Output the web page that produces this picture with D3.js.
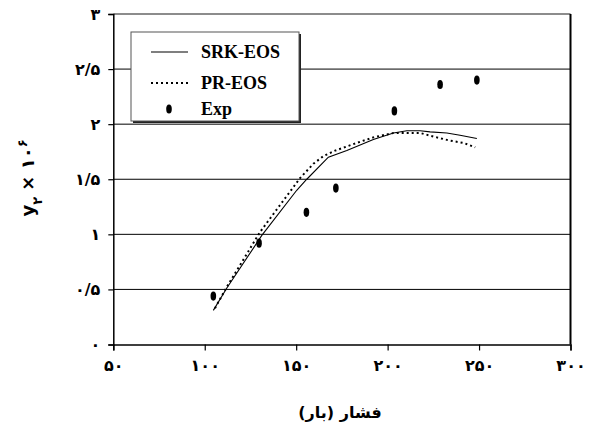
<!DOCTYPE html>
<html>
<head>
<meta charset="utf-8">
<script src="https://cdn.jsdelivr.net/npm/d3@7/dist/d3.min.js"></script>
<style>
  html, body { margin: 0; padding: 0; background: #fff; }
  svg { display: block; }
</style>
</head>
<body>
<svg id="chart" width="596" height="436"></svg>
<script>
// axis ticks
const xTicks = [50, 100, 150, 200, 250, 300];
const yTicks = [0, 0.5, 1, 1.5, 2, 2.5, 3];
const seriesNames = ["SRK-EOS", "PR-EOS", "Exp"];

// SRK-EOS model (pressure, y2 x 10^6)
const srkP = [104.7, 112.0, 131.2, 150.3, 155.8, 167.6, 177.7, 192.2, 203.2, 210.5, 217.8, 223.2, 232.4, 239.6, 248.8];
const srkY = [0.31, 0.51, 0.99, 1.40, 1.50, 1.70, 1.76, 1.86, 1.92, 1.94, 1.94, 1.93, 1.92, 1.90, 1.87];

// PR-EOS model
const prP = [105.6, 112.0, 130.2, 152.1, 159.4, 164.9, 171.3, 184.9, 192.2, 203.2, 210.5, 217.8, 226.9, 234.2, 241.5, 247.9];
const prY = [0.33, 0.52, 1.02, 1.51, 1.64, 1.71, 1.76, 1.84, 1.88, 1.92, 1.92, 1.92, 1.88, 1.85, 1.83, 1.79];

// experimental points
const expP = [104.7, 129.7, 155.6, 171.7, 203.7, 228.7, 248.8];
const expY = [0.44, 0.92, 1.20, 1.42, 2.12, 2.36, 2.40];

const faDigits = "۰۱۲۳۴۵۶۷۸۹";
const toFa = v => String(v).replace(/\d/g, d => faDigits[d]).replace(".", "/");

var m = { top: 14, right: 25.5, bottom: 91.5, left: 113.3 };
var w = 596 - m.left - m.right;
var h = 436 - m.top - m.bottom;

const svg = d3.select("#chart");
const g = svg.append("g").attr("transform", "translate(" + m.left + "," + m.top + ")");

var x = d3.scaleLinear().domain([50, 300]).range([0, w]);
var y = d3.scaleLinear().domain([0, 3]).range([h, 0]);

const faFont = "'DejaVu Sans', sans-serif";

// gridlines
g.selectAll("line.grid")
  .data(yTicks.filter(d => d > 0 && d < 3))
  .enter().append("line")
  .attr("class", "grid")
  .attr("x1", 0).attr("x2", w)
  .attr("y1", d => y(d)).attr("y2", d => y(d))
  .attr("stroke", "#000").attr("stroke-width", 1);

// plot border (top, right)
g.append("line").attr("x1", 0).attr("x2", w).attr("y1", 0).attr("y2", 0)
  .attr("stroke", "#666").attr("stroke-width", 1.5);
g.append("line").attr("x1", w).attr("x2", w).attr("y1", 0).attr("y2", h)
  .attr("stroke", "#000").attr("stroke-width", 2);

// axes
const yAxis = g.append("g")
  .call(d3.axisLeft(y).tickValues(yTicks).tickSize(5).tickPadding(8).tickFormat(toFa));
const xAxis = g.append("g")
  .attr("transform", "translate(0," + h + ")")
  .call(d3.axisBottom(x).tickValues(xTicks).tickSize(6).tickPadding(9).tickFormat(toFa));

[yAxis, xAxis].forEach(a => {
  a.select(".domain").attr("stroke", "#000").attr("stroke-width", 1.5);
  a.selectAll(".tick line").attr("stroke", "#000").attr("stroke-width", 1.2);
  a.selectAll("text")
    .attr("fill", "#000")
    .style("font-family", faFont)
    .style("font-weight", "bold")
    .style("font-size", "16px");
});

// model lines
const line = d3.line()
  .x(d => x(d[0]))
  .y(d => y(d[1]));

g.append("path")
  .datum(d3.zip(srkP, srkY))
  .attr("fill", "none")
  .attr("stroke", "#000")
  .attr("stroke-width", 1.1)
  .attr("d", line);

g.append("path")
  .datum(d3.zip(prP, prY))
  .attr("fill", "none")
  .attr("stroke", "#000")
  .attr("stroke-width", 2)
  .attr("stroke-dasharray", "2,3")
  .attr("d", line);

// experimental points
g.selectAll("ellipse.exp")
  .data(d3.zip(expP, expY))
  .enter().append("ellipse")
  .attr("class", "exp")
  .attr("cx", d => x(d[0]))
  .attr("cy", d => y(d[1]))
  .attr("rx", 2.8)
  .attr("ry", 4.6)
  .attr("fill", "#000");

// legend
const lg = svg.append("g").attr("transform", "translate(131,32)");
lg.append("rect").attr("x", 2).attr("y", 2).attr("width", 168).attr("height", 89).attr("fill", "#222");
lg.append("rect").attr("width", 168).attr("height", 89)
  .attr("fill", "#fff").attr("stroke", "#555").attr("stroke-width", 1);

const rows = lg.selectAll("g.row")
  .data(seriesNames)
  .enter().append("g")
  .attr("class", "row")
  .attr("transform", (d, i) => "translate(0," + [20, 51, 77][i] + ")");

rows.filter((d, i) => i === 0).append("line")
  .attr("x1", 20).attr("x2", 57).attr("y1", 0).attr("y2", 0)
  .attr("stroke", "#000").attr("stroke-width", 1.1);
rows.filter((d, i) => i === 1).append("line")
  .attr("x1", 20).attr("x2", 57).attr("y1", 0).attr("y2", 0)
  .attr("stroke", "#000").attr("stroke-width", 2).attr("stroke-dasharray", "2,3");
rows.filter((d, i) => i === 2).append("ellipse")
  .attr("cx", 38).attr("cy", 0).attr("rx", 2.8).attr("ry", 4.6).attr("fill", "#000");

rows.append("text")
  .attr("x", 70)
  .attr("dy", "0.35em")
  .style("font-family", "'Liberation Serif', 'Times New Roman', serif")
  .style("font-weight", "bold")
  .style("font-size", "18px")
  .text(d => d);

// axis titles
svg.append("text")
  .attr("transform", "translate(340,412)")
  .attr("text-anchor", "middle")
  .attr("dy", "0.35em")
  .style("font-family", faFont)
  .style("font-weight", "bold")
  .style("font-size", "16px")
  .text("فشار (بار)");

const yt = svg.append("text")
  .attr("transform", "translate(28,178) rotate(-90)")
  .attr("text-anchor", "middle")
  .attr("dy", "0.35em")
  .style("font-family", faFont)
  .style("font-weight", "bold")
  .style("font-size", "18px");
yt.append("tspan").text("y");
yt.append("tspan").attr("baseline-shift", "sub").style("font-size", "13px").text("۲");
yt.append("tspan").text(" × ۱۰");
yt.append("tspan").attr("baseline-shift", "super").style("font-size", "13px").text("۶");
</script>
</body>
</html>
